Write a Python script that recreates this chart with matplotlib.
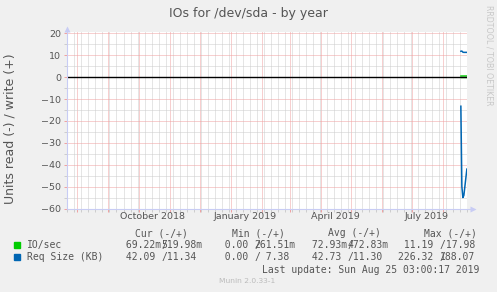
import datetime as dt
import matplotlib
matplotlib.use('Agg')
import matplotlib.pyplot as plt
import matplotlib.dates as mdates
from matplotlib.patches import Rectangle
from matplotlib.lines import Line2D

W, H = 497, 292

# values (only the last week has data)
days = ['2019-08-18', '2019-08-19', '2019-08-20', '2019-08-21',
        '2019-08-22', '2019-08-23', '2019-08-24']
io_read = [0.07, 0.07, 0.07, 0.07, 0.07, 0.07, 0.07]
io_write = [0.50, 0.52, 0.52, 0.52, 0.52, 0.52, 0.52]
req_read = [13.3, 50.0, 55.0, 54.0, 50.0, 46.0, 42.0]
req_write = [11.8, 11.9, 11.4, 11.3, 11.3, 11.3, 11.3]

# legend table: (read, write) pairs
names = ['IO/sec', 'Req Size (KB)']
colors = ['#00cc00', '#0066b3']
cur = [(0.06922, 0.51998), (42.09, 11.34)]
mins = [(0.0, 0.26151), (0.0, 7.38)]
avg = [(0.07293, 0.47283), (42.73, 11.30)]
maxs = [(11.19, 17.98), (226.32, 188.07)]

label_months = ['2018-10', '2019-01', '2019-04', '2019-07']
start = dt.datetime(2018, 7, 21, 3)
end = dt.datetime(2019, 8, 25, 3)

txt = '#555555'
grid_red = '#f0a0a0'
grid_gray = '#cccccc'
axis_col = '#c8ccf4'


def fx(x):
    return x / W


def fy(y):
    return 1 - y / H


fig = plt.figure(figsize=(W / 100, H / 100), dpi=100, facecolor='#f0f0f0')
ax = fig.add_axes([fx(66.5), fy(208.5), (467.5 - 66.5) / W, (208.5 - 32) / H],
                  facecolor='white')

t = [dt.datetime.strptime(d, '%Y-%m-%d') + dt.timedelta(hours=12) for d in days]
ax.plot(t, [-v for v in io_read], color=colors[0], lw=1.0)
ax.plot(t, io_write, color=colors[0], lw=1.0)
ax.plot(t, [-v for v in req_read], color=colors[1], lw=1.1)
ax.plot(t, req_write, color=colors[1], lw=1.1)
ax.axhline(0, color='black', lw=1.0, zorder=5)

ax.set_xlim(start, end)
ax.set_ylim(-60, 20.6)
ax.xaxis.set_major_locator(mdates.MonthLocator())
ax.xaxis.set_minor_locator(mdates.WeekdayLocator(byweekday=mdates.SU))
ax.set_yticks(range(-60, 21, 10))
ax.set_yticks(range(-55, 20, 10), minor=True)
ax.grid(which='major', color=grid_red, lw=0.72, linestyle=(0, (1, 1)))
ax.grid(which='minor', color=grid_gray, lw=0.72, linestyle=(0, (1, 1)))
ax.set_axisbelow(True)
for s in ax.spines.values():
    s.set_visible(False)
ax.tick_params(which='both', length=2, width=0.7, color=grid_red)
ax.tick_params(which='minor', color=grid_gray)
ax.tick_params(axis='y', labelsize=6.8, labelcolor=txt, pad=2)
ax.tick_params(axis='x', labelbottom=False)

for m in label_months:
    d = dt.datetime.strptime(m + '-15', '%Y-%m-%d')
    ax.text(d, -0.045, d.strftime('%B %Y'), transform=ax.get_xaxis_transform(),
            ha='center', va='center', fontsize=6.8, color=txt)

# axis lines with arrows
fig.add_artist(Line2D([fx(66.5), fx(66.5)], [fy(208.5), fy(28)], color=axis_col,
                      lw=0.8, transform=fig.transFigure))
fig.add_artist(Line2D([fx(66.5), fx(474)], [fy(208.5), fy(208.5)], color=axis_col,
                      lw=0.8, transform=fig.transFigure))
fig.add_artist(Line2D([fx(66.5)], [fy(29)], marker='^', ms=4, color=axis_col,
                      mec='none', transform=fig.transFigure))
fig.add_artist(Line2D([fx(473)], [fy(208.5)], marker='>', ms=4, color=axis_col,
                      mec='none', transform=fig.transFigure))

fig.text(fx(248), fy(13), 'IOs for /dev/sda - by year', ha='center', va='center',
         fontsize=9, color=txt)
fig.text(fx(10), fy(129), 'Units read (-) / write (+)', rotation=90,
         ha='center', va='center', fontsize=9, color=txt)
fig.text(fx(489), fy(5), 'RRDTOOL / TOBI OETIKER', rotation=270, ha='center',
         va='top', fontsize=5.7, color='#c8c8c8')


def fmt(v, tail=' '):
    if 0 < abs(v) < 1:
        return f'{v * 1000:6.2f}m'
    return f'{v:6.2f}' + tail


mono = 'DejaVu Sans Mono'
fs = 7
cw = 5.9
heads = [('Cur (-/+)', 187.8), ('Min (-/+)', 285.0), ('Avg (-/+)', 380.5), ('Max (-/+)', 476.5)]
for h, x in heads:
    fig.text(fx(x), fy(233), h, ha='right', va='center', family=mono, fontsize=fs, color=txt)

col_x = [120.1, 213.2, 305.8, 398.4]
rows_y = [245, 257]
for i in range(2):
    y = rows_y[i]
    fig.patches.append(Rectangle((fx(14), fy(y + 2.8)), 5.5 / W, 5.5 / H,
                                 transform=fig.transFigure, color=colors[i]))
    fig.text(fx(27), fy(y), names[i], ha='left', va='center', family=mono,
             fontsize=fs, color=txt)
    for x0, pair in zip(col_x, [cur[i], mins[i], avg[i], maxs[i]]):
        fig.text(fx(x0), fy(y), fmt(pair[0]), ha='left', va='center',
                 family=mono, fontsize=fs, color=txt)
        fig.text(fx(x0 + 7 * cw), fy(y), '/', ha='left', va='center',
                 family=mono, fontsize=fs, color=txt)
        fig.text(fx(x0 + 7 * cw), fy(y), fmt(pair[1], ''), ha='left', va='center',
                 family=mono, fontsize=fs, color=txt)

fig.text(fx(262), fy(270), 'Last update: Sun Aug 25 03:00:17 2019', ha='left',
         va='center', family=mono, fontsize=fs, color=txt)
fig.text(fx(219), fy(281), 'Munin 2.0.33-1', ha='left', va='center',
         fontsize=5.4, color='#bbbbbb')

fig.savefig('out.png', dpi=100, facecolor=fig.get_facecolor())
